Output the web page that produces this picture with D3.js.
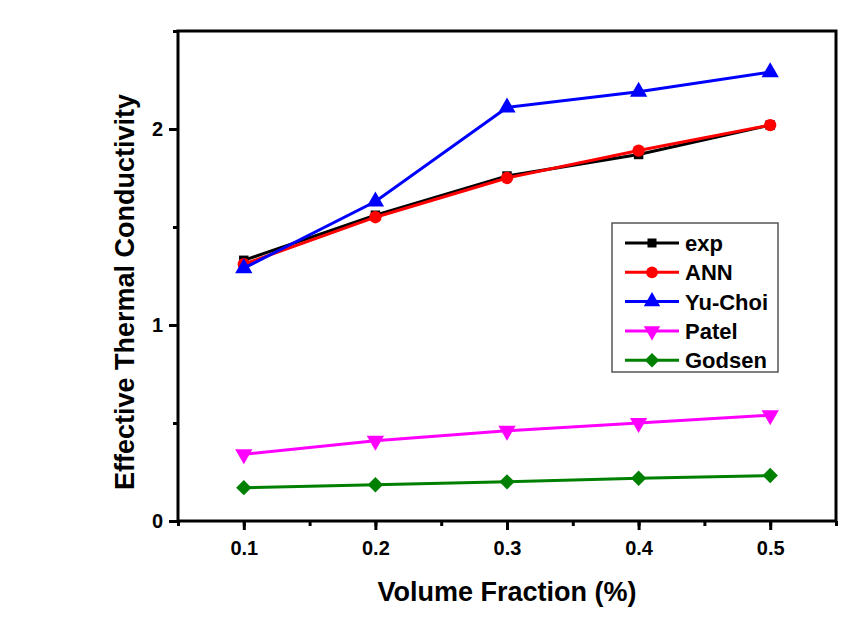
<!DOCTYPE html>
<html>
<head>
<meta charset="utf-8">
<script src="https://cdn.jsdelivr.net/npm/d3@7"></script>
<style>
  body { margin: 0; background: #fff; }
  text { font-family: "Liberation Sans", Arial, sans-serif; font-weight: bold; }
</style>
</head>
<body>
<div id="chart"></div>
<script>
// values
var fractions = [0.1, 0.2, 0.3, 0.4, 0.5];
var expVals = [1.33, 1.56, 1.76, 1.87, 2.02];
var annVals = [1.31, 1.55, 1.75, 1.89, 2.02];
var yuChoiVals = [1.29, 1.63, 2.11, 2.19, 2.29];
var patelVals = [0.34, 0.41, 0.46, 0.50, 0.54];
var godsenVals = [0.17, 0.185, 0.20, 0.218, 0.232];
var seriesNames = ["exp", "ANN", "Yu-Choi", "Patel", "Godsen"];
var xTicks = [0.1, 0.2, 0.3, 0.4, 0.5];
var yTicks = [0, 1, 2];

var series = [
  {name: seriesNames[0], vals: expVals, color: "#000000", sym: d3.symbolSquare, size: 90, rot: 0},
  {name: seriesNames[1], vals: annVals, color: "#ff0000", sym: d3.symbolCircle, size: 120, rot: 0},
  {name: seriesNames[2], vals: yuChoiVals, color: "#0000ff", sym: d3.symbolTriangle, size: 130, rot: 0},
  {name: seriesNames[3], vals: patelVals, color: "#ff00ff", sym: d3.symbolTriangle, size: 130, rot: 180},
  {name: seriesNames[4], vals: godsenVals, color: "#008000", sym: d3.symbolDiamond2, size: 150, rot: 0}
];

var width = 854, height = 628;
var margin = {top: 31, right: 18, bottom: 107, left: 178};
var w = width - margin.left - margin.right,
    h = height - margin.top - margin.bottom;

var svg = d3.select("#chart").append("svg")
    .attr("width", width).attr("height", height);
var g = svg.append("g").attr("transform", "translate(" + margin.left + "," + margin.top + ")");

var x = d3.scaleLinear().domain([0.05, 0.55]).range([0, w]);
var y = d3.scaleLinear().domain([0, 2.5]).range([h, 0]);

// minor ticks
var xMinor = d3.range(0.05, 0.56, 0.05);
var yMinor = d3.range(0, 2.51, 0.5);

g.append("g").attr("transform", "translate(0," + h + ")")
  .call(d3.axisBottom(x).tickValues(xMinor).tickSize(5).tickFormat(""))
  .call(function(s){ s.select(".domain").remove(); s.selectAll("line").attr("stroke-width", 3); });
g.append("g")
  .call(d3.axisLeft(y).tickValues(yMinor).tickSize(5).tickFormat(""))
  .call(function(s){ s.select(".domain").remove(); s.selectAll("line").attr("stroke-width", 3); });

var xAxis = g.append("g").attr("transform", "translate(0," + h + ")")
  .call(d3.axisBottom(x).tickValues(xTicks).tickSize(9).tickPadding(11).tickFormat(d3.format(".1f")));
xAxis.select(".domain").remove();
xAxis.selectAll("line").attr("stroke-width", 3);
xAxis.selectAll("text").attr("font-size", 20).attr("fill", "#000");

var yAxis = g.append("g")
  .call(d3.axisLeft(y).tickValues(yTicks).tickSize(9).tickPadding(6).tickFormat(d3.format("d")));
yAxis.select(".domain").remove();
yAxis.selectAll("line").attr("stroke-width", 3);
yAxis.selectAll("text").attr("font-size", 20).attr("fill", "#000");

// frame
g.append("rect").attr("x", 0).attr("y", 0).attr("width", w).attr("height", h)
  .attr("fill", "none").attr("stroke", "#000").attr("stroke-width", 3);

var line = d3.line().x(function(d, i){ return x(fractions[i]); }).y(function(d){ return y(d); });

series.forEach(function(s){
  g.append("path").datum(s.vals).attr("d", line)
    .attr("fill", "none").attr("stroke", s.color).attr("stroke-width", 3);
  g.selectAll(null).data(s.vals).enter().append("path")
    .attr("d", d3.symbol().type(s.sym).size(s.size))
    .attr("transform", function(d, i){ return "translate(" + x(fractions[i]) + "," + y(d) + ") rotate(" + s.rot + ")"; })
    .attr("fill", s.color);
});

// legend
var leg = svg.append("g").attr("transform", "translate(612,223)");
leg.append("rect").attr("width", 166).attr("height", 149)
  .attr("fill", "#fff").attr("stroke", "#555").attr("stroke-width", 1.5);
series.forEach(function(s, i){
  var ly = 20 + i * 29.3;
  leg.append("line").attr("x1", 13).attr("x2", 67).attr("y1", ly).attr("y2", ly)
    .attr("stroke", s.color).attr("stroke-width", 3);
  leg.append("path").attr("d", d3.symbol().type(s.sym).size(s.size * 0.9))
    .attr("transform", "translate(40," + ly + ") rotate(" + s.rot + ")").attr("fill", s.color);
  leg.append("text").attr("x", 73).attr("y", ly + 8).attr("font-size", 22).text(s.name);
});

// axis titles
svg.append("text").attr("x", 507).attr("y", 601)
  .attr("text-anchor", "middle").attr("font-size", 27).text("Volume Fraction (%)");
svg.append("text").attr("transform", "translate(134,292) rotate(-90)")
  .attr("text-anchor", "middle").attr("font-size", 27).text("Effective Thermal Conductivity");
</script>
</body>
</html>
